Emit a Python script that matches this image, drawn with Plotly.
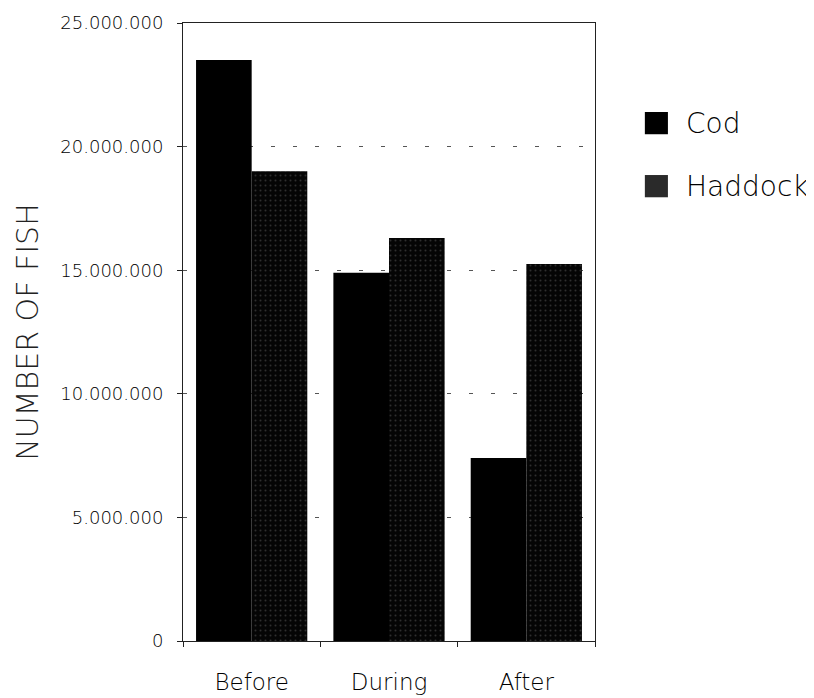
import plotly.graph_objects as go

categories = ["Before", "During", "After"]
cod = [23500000, 14900000, 7400000]
haddock = [19000000, 16300000, 15250000]
tick_vals = [0, 5000000, 10000000, 15000000, 20000000, 25000000]
tick_text = ["0", "5.000.000", "10.000.000", "15.000.000", "20.000.000", "25.000.000"]
series_names = ["Cod", "Haddock"]

FONT = "DejaVu Sans, sans-serif"
TXT = "#000000"

fig = go.Figure()
fig.add_trace(go.Bar(
    x=categories, y=cod, name=series_names[0], showlegend=False,
    marker=dict(color="#000000", line=dict(width=0)),
))
fig.add_trace(go.Bar(
    x=categories, y=haddock, name=series_names[1], showlegend=False,
    marker=dict(color="#000000", line=dict(width=0),
                pattern=dict(shape=".", fgcolor="#5a5a5a", bgcolor="#050505",
                             size=5, solidity=0.12, fillmode="overlay")),
))

# legend drawn as squares + text (larger symbols than Plotly's legend allows)
legend_y = [0.838, 0.736]
legend_fill = ["#000000", "#2a2a2a"]
for name, yy, col in zip(series_names, legend_y, legend_fill):
    fig.add_shape(type="rect", xref="paper", yref="paper",
                  x0=1.121, x1=1.177, y0=yy - 0.018, y1=yy + 0.018,
                  fillcolor=col, line=dict(width=0))
    fig.add_annotation(text=name, xref="paper", yref="paper", x=1.215, y=yy,
                       xanchor="left", yanchor="middle", showarrow=False,
                       font=dict(size=28, family=FONT, color=TXT, weight=300))

fig.update_layout(
    width=814, height=698,
    margin=dict(l=175, r=227, t=15, b=65, autoexpand=False),
    paper_bgcolor="white", plot_bgcolor="white",
    barmode="group", bargap=0.19, bargroupgap=0,
    font=dict(family=FONT, color=TXT),
    showlegend=False,
    xaxis=dict(
        automargin=False,
        showline=True, linecolor="#222222", linewidth=1, mirror=True,
        tickfont=dict(size=23, family=FONT, color=TXT, weight=300),
        ticks="outside", tickson="boundaries", ticklen=5, tickcolor="#222222",
        ticklabelstandoff=20, showgrid=False,
    ),
    yaxis=dict(
        automargin=False,
        range=[0, 25000000], tickvals=tick_vals, ticktext=tick_text,
        showline=True, linecolor="#222222", linewidth=1, mirror=True,
        ticks="outside", ticklen=5, tickcolor="#222222",
        tickfont=dict(size=18, family=FONT, color=TXT, weight=300),
        ticklabelstandoff=10,
        showgrid=True, gridcolor="#555555", griddash="4px,18px", gridwidth=1,
        zeroline=False,
        title=dict(text="NUMBER OF FISH",
                   font=dict(size=30, family=FONT, color="#222222", weight=300),
                   standoff=12),
    ),
)

fig.write_html("out.html")
